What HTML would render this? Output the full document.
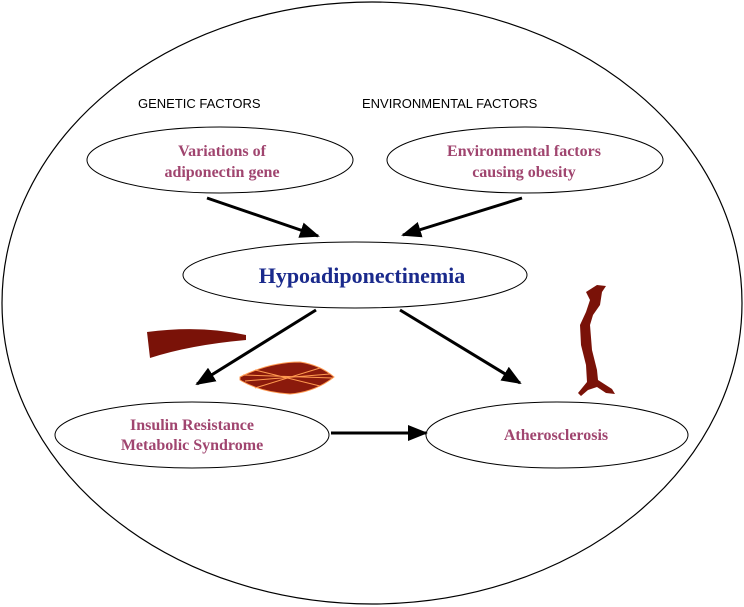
<!DOCTYPE html>
<html><head><meta charset="utf-8"><style>
html,body{margin:0;padding:0;background:#fff;width:744px;height:607px;overflow:hidden}
svg{display:block}
</style></head><body>
<svg width="744" height="607" viewBox="0 0 744 607" xmlns="http://www.w3.org/2000/svg">
<defs><marker id="b" markerWidth="20" markerHeight="16" refX="18" refY="8" orient="auto" markerUnits="userSpaceOnUse"><path d="M0,0 L20,8 L0,16 z" fill="#000"/></marker></defs>
<ellipse cx="372" cy="303" rx="370" ry="301" fill="none" stroke="#000" stroke-width="1.2"/>
<g font-family="Liberation Sans, sans-serif" font-size="13" fill="#000">
<text x="138" y="108">GENETIC  FACTORS</text>
<text x="362" y="108">ENVIRONMENTAL FACTORS</text>
</g>
<g fill="none" stroke="#000" stroke-width="1">
<ellipse cx="220" cy="160" rx="133" ry="33"/>
<ellipse cx="525" cy="160" rx="138" ry="33"/>
<ellipse cx="355" cy="275" rx="172" ry="33"/>
<ellipse cx="192" cy="435" rx="137" ry="33"/>
<ellipse cx="557" cy="435" rx="131" ry="33"/>
</g>
<g font-family="Liberation Serif, serif" font-weight="bold" font-size="16" fill="#a0456f" text-anchor="middle">
<text x="222" y="156">Variations of</text>
<text x="222" y="177">adiponectin gene</text>
<text x="524" y="156">Environmental factors</text>
<text x="524" y="177">causing obesity</text>
<text x="192" y="430">Insulin Resistance</text>
<text x="192" y="450">Metabolic Syndrome</text>
<text x="556" y="440">Atherosclerosis</text>
</g>
<text x="362" y="283" text-anchor="middle" font-family="Liberation Serif, serif" font-weight="bold" font-size="22" fill="#1a2a8c">Hypoadiponectinemia</text>
<g stroke="#000" stroke-width="3">
<line x1="207" y1="198" x2="318" y2="236" marker-end="url(#b)"/>
<line x1="522" y1="198" x2="403" y2="235" marker-end="url(#b)"/>
<line x1="316" y1="310" x2="197" y2="384" marker-end="url(#b)"/>
<line x1="400" y1="310" x2="520" y2="383" marker-end="url(#b)"/>
<line x1="331" y1="433" x2="426" y2="433" marker-end="url(#b)"/>
</g>
<path d="M147,332 Q200,325 246,335 L246,340 Q190,345 150,358 Z" fill="#7a1208"/>
<path d="M240,377 Q270,362 300,362 Q320,365 334,377 Q315,392 290,394 Q260,392 240,380 Z" fill="#8b1a0c" stroke="#ff9a50" stroke-width="1"/>
<path d="M243,375 L333,378 M245,381 L330,374 M255,370 L320,386 M255,388 L320,368" stroke="#ff9a50" stroke-width="1" fill="none"/>
<path d="M586,292 L597,285 L606,286 L602,292 L600,305 L593,315 L590,325 L592,350 L597,370 L598,380 L612,389 L615,394 L606,393 L597,387 L588,390 L581,396 L578,393 L587,382 L586,365 L581,345 L580,325 L586,312 L590,300 Z" fill="#7a1208"/>
</svg>
</body></html>
